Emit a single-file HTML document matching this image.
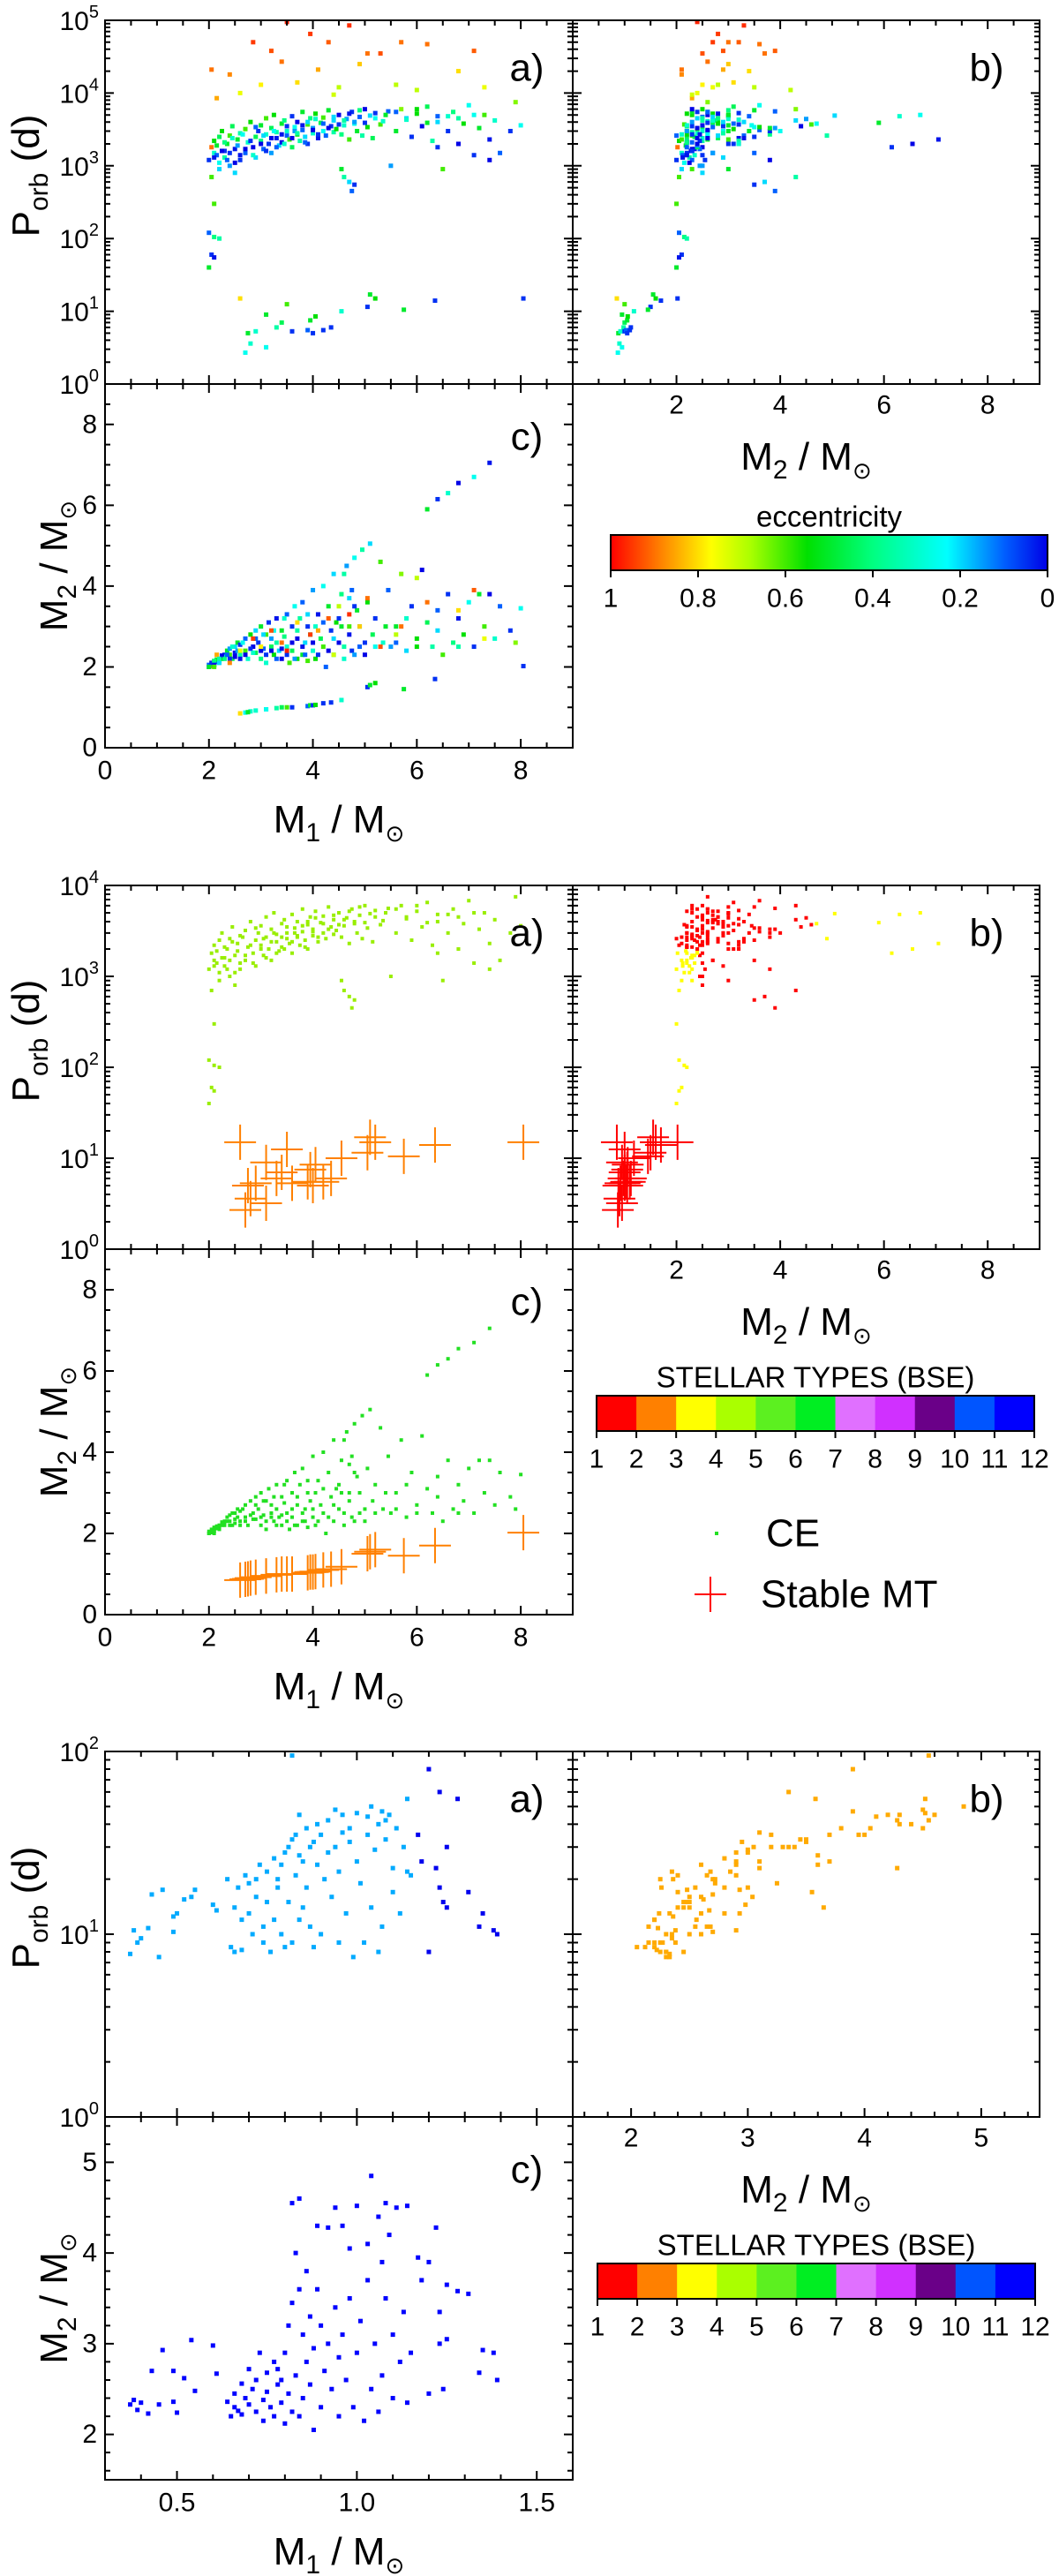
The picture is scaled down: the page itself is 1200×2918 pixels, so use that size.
<!DOCTYPE html>
<html><head><meta charset="utf-8"><title>Binary populations</title>
<style>
html,body{margin:0;padding:0;background:#fff;}
svg{display:block;font-family:"Liberation Sans",Arial,sans-serif;}
</style></head>
<body>
<svg id="fig" xmlns="http://www.w3.org/2000/svg" width="1200" height="2918" viewBox="0 0 1200 2918">
<defs>
<linearGradient id="eccGrad" x1="0" x2="1" y1="0" y2="0">
<stop offset="0" stop-color="#ff0000"/><stop offset="0.12" stop-color="#ff8800"/><stop offset="0.23" stop-color="#ffff00"/><stop offset="0.32" stop-color="#aaff00"/><stop offset="0.45" stop-color="#00e000"/><stop offset="0.6" stop-color="#00ff80"/><stop offset="0.77" stop-color="#00ffff"/><stop offset="0.9" stop-color="#0060ff"/><stop offset="1" stop-color="#0000e6"/>
</linearGradient>
</defs>
</svg>
<script>
// ---------- data: figure 1 & 2 systems [M1, M2, Porb(d), ecc] ----------
const mainSystems = [
[2.0,2.0,1200,0.05],[2.05,2.02,1800,0.9],[2.05,2.05,700,0.6],[2.1,2.1,1500,0.3],[2.1,2.05,2200,0.55],[2.15,2.12,1400,0.1],[2.2,2.2,2500,0.45],[2.2,2.15,1100,0.25],[2.25,2.2,3000,0.55],[2.3,2.3,1600,0.05],[2.3,2.25,1300,0.35],[2.35,2.4,2000,0.5],[2.4,2.3,2600,0.6],[2.4,2.45,1000,0.15],[2.45,2.2,3500,0.45],[2.5,2.5,800,0.2],[2.5,2.35,1700,0.02],[2.55,2.6,2300,0.5],[2.6,2.3,2800,0.35],[2.6,2.55,1200,0.05],
[2.7,2.4,3200,0.6],[2.7,2.7,1500,0.1],[2.75,2.2,2100,0.3],[2.8,2.8,4000,0.55],[2.85,2.5,1800,0.0],[2.9,2.35,2500,0.45],[2.9,2.9,1300,0.2],[2.95,2.6,3000,0.05],[3.0,3.0,3600,0.5],[3.0,2.2,2200,0.4],[3.05,2.45,1700,0.1],[3.1,2.8,4500,0.6],[3.1,2.1,2700,0.3],[3.15,3.1,2000,0.05],[3.2,2.5,3300,0.45],[3.2,2.7,1500,0.15],[3.25,2.3,5000,0.55],[3.3,3.2,2400,0.02],[3.3,2.6,2900,0.35],[3.35,2.4,1900,0.2],[3.4,2.9,3800,0.5],[3.4,2.2,2100,0.0],[3.45,2.75,4200,0.4],[3.5,3.3,2600,0.1],[3.5,2.5,3000,0.3],
[3.55,2.1,2300,0.6],[3.6,3.0,4800,0.05],[3.6,2.4,1800,0.45],[3.65,3.5,3400,0.25],[3.7,2.2,2700,0.55],[3.7,2.7,4000,0.0],[3.75,3.2,2200,0.35],[3.8,2.3,5500,0.5],[3.8,3.6,3100,0.1],[3.85,2.6,2500,0.2],[3.9,2.15,3700,0.6],[3.9,3.0,2000,0.05],[3.95,2.8,4500,0.4],[4.0,3.9,3300,0.15],[4.0,2.4,2800,0.3],[4.05,2.2,5200,0.55],[4.1,3.3,2400,0.02],[4.15,2.7,3900,0.45],[4.2,4.0,3000,0.25],[4.2,2.5,4600,0.6],[4.25,2.0,2600,0.1],[4.3,3.5,5800,0.5],[4.35,2.9,3500,0.05],[4.4,2.3,2900,0.35],[4.4,4.3,4200,0.2],[4.45,3.1,3200,0.55],
[4.5,2.6,5000,0.0],[4.55,3.8,2700,0.4],[4.6,2.2,3600,0.3],[4.65,4.5,4400,0.15],[4.7,3.0,2300,0.6],[4.75,2.4,5500,0.05],[4.8,4.7,3800,0.25],[4.85,3.4,3000,0.5],[4.9,2.5,4700,0.1],[4.95,4.9,2600,0.35],[5.0,2.3,6000,0.0],[5.05,3.6,3400,0.55],[5.1,5.05,4900,0.2],[5.15,2.8,2400,0.45],[5.2,3.2,5300,0.05],[5.3,4.6,3700,0.6],[5.35,2.6,4100,0.3],[5.45,3.9,5600,0.1],
[5.5,2.5,1000,0.15],[5.6,3.0,3000,0.5],[5.7,4.3,6000,0.65],[5.8,2.4,4500,0.2],[5.9,3.5,2500,0.05],[6.0,2.7,5200,0.55],[6.1,4.4,3500,0.0],[6.2,3.1,6500,0.45],[6.3,2.5,2200,0.35],[6.4,3.4,4800,0.1],[6.5,2.3,900,0.6],[6.6,3.8,3000,0.05],[6.7,2.6,5500,0.4],[6.8,3.2,2000,0.02],[6.9,2.8,3800,0.55],[7.0,3.6,6800,0.25],[7.1,2.5,1400,0.05],[7.2,3.8,3300,0.5],[7.3,3.0,5000,0.6],[7.4,3.8,1200,0.0],[7.5,2.7,4200,0.3],[7.6,3.5,1500,0.1],[7.8,2.9,3000,0.05],[7.9,2.6,7500,0.65],[8.0,3.45,3600,0.25],
[6.2,5.9,3900,0.5],[6.4,6.15,1800,0.05],[6.6,6.3,4800,0.3],[6.8,6.55,2000,0.0],[7.1,6.7,5000,0.25],[7.4,7.05,2300,0.02],
[4.55,3.0,900,0.5],[4.7,3.7,600,0.2],[4.75,3.9,450,0.1],[4.8,3.5,550,0.05],[4.6,4.3,700,0.35]
];
const mainSystemsExtra = [
[2.1,2.12,1300,0.02],[2.15,2.18,1900,0.5],[2.2,2.1,900,0.2],[2.25,2.28,1600,0.0],[2.3,2.2,2100,0.4],[2.35,2.3,1200,0.1],[2.4,2.2,1500,0.05],[2.45,2.5,2400,0.3],[2.5,2.25,1100,0.0],[2.55,2.4,1900,0.15],
[2.6,2.2,1400,0.02],[2.65,2.6,2700,0.25],[2.7,2.3,1700,0.0],[2.8,2.45,2200,0.05],[2.85,2.35,1400,0.3],[2.9,2.7,3400,0.1],[3.0,2.4,2000,0.0],[3.05,2.8,2600,0.2],[3.1,2.3,1600,0.05],[3.2,2.4,2400,0.0],
[3.25,2.9,3000,0.25],[3.3,2.2,1800,0.1],[3.4,2.45,2700,0.02],[3.45,3.2,2000,0.3],[3.5,2.3,3500,0.05],[3.6,2.6,2400,0.0],[3.65,2.2,3000,0.15],[3.7,2.9,2800,0.35],[3.8,2.5,3600,0.02],[3.85,2.3,2100,0.1],
[3.9,3.3,4000,0.2],[4.0,2.6,3100,0.0],[4.05,3.0,4400,0.3],[4.1,2.3,2700,0.05],[4.2,3.1,3800,0.1],[4.3,2.4,3300,0.0],[4.4,2.7,4700,0.2],[4.5,3.2,3700,0.05],[4.6,2.5,4200,0.35],[4.7,2.8,5200,0.02],
[4.8,2.3,4000,0.15],[4.9,3.0,5800,0.4],[5.0,2.6,3900,0.05],[5.2,2.5,4500,0.25],[5.4,3.0,5000,0.5],[5.6,2.6,5500,0.1],[5.8,3.2,4300,0.3],[6.0,2.5,6000,0.55],[6.4,2.9,4000,0.2],[6.8,2.5,4500,0.35]
];
const highEccSystems = [
[2.05,2.1,21000,0.9],[2.15,2.3,8500,0.85],[2.4,2.1,18000,0.88],[2.6,2.4,10000,0.75],[2.85,2.7,50000,0.95],[3.0,2.5,13000,0.78],[3.2,2.9,38000,0.93],[3.4,2.6,27000,0.9],[3.5,2.4,95000,0.97],[3.7,3.1,14000,0.8],[3.95,2.8,65000,0.95],[4.1,2.9,21000,0.85],[4.3,3.2,50000,0.92],[4.5,3.5,12000,0.7],[4.7,3.3,85000,0.96],[4.9,3.0,25000,0.82],[5.05,3.7,35000,0.9],[5.3,2.5,35000,0.93],[5.6,2.8,13000,0.7],[5.7,3.0,50000,0.9],[6.2,3.6,47000,0.9],[6.8,3.4,20000,0.8],[7.1,3.9,38000,0.92],[7.3,2.7,12000,0.75],[4.4,2.3,9500,0.72],[6.0,4.2,11000,0.7]
];
const midPeriodSystems = [
[2.0,2.05,120,0.1],[2.05,2.1,60,0.05],[2.1,2.15,105,0.4],[2.2,2.2,100,0.35],[2.1,2.05,55,0.02],[2.0,2.0,40,0.5],[2.1,2.0,300,0.6]
];
const shortPeriodSystems = [
[2.6,0.85,15,0.8],[2.7,0.87,2.7,0.25],[2.8,0.9,3.6,0.3],[2.75,0.88,5,0.5],[2.9,0.92,5.3,0.3],[3.1,0.95,9,0.5],[3.1,0.95,3.2,0.25],[3.3,0.98,6,0.35],[3.4,1.0,7,0.45],[3.5,1.0,12.5,0.6],[3.6,1.0,5.3,0.05],[3.9,1.03,5.5,0.1],[3.95,1.05,7.5,0.5],[4.0,1.05,5,0.05],[4.05,1.06,8.5,0.55],[4.2,1.1,5.5,0.05],[4.35,1.12,6,0.05],[4.55,1.18,10,0.3],[5.05,1.5,11.5,0.05],[5.1,1.55,17,0.5],[5.2,1.6,15,0.55],[5.75,1.45,10.5,0.5],[6.35,1.7,14,0.05],[8.05,2.02,15,0.05]
];
// ---------- data: figure 3 systems [M1, M2, Porb(d)] ----------
const lowMassSystems = [
[0.37,2.33,7.8],[0.38,2.38,10.5],[0.39,2.27,9],[0.40,2.35,9.5],[0.42,2.23,10.8],[0.43,2.7,16.5],[0.45,2.33,7.5],[0.46,2.93,17.5],[0.49,2.36,12.5],[0.49,2.7,10.3],[0.50,2.24,13],[0.52,2.62,15.5],[0.54,3.04,16],[0.55,2.48,17.5],[0.60,2.98,14.5],[0.61,2.67,13.5],
[0.64,2.36,20],[0.65,2.2,8.5],[0.66,2.45,14],[0.66,2.3,8],[0.67,2.26,18],[0.68,2.56,12],[0.68,2.22,8.2],[0.69,2.4,21],[0.70,2.72,19],[0.70,2.33,13],[0.71,2.5,10],[0.72,2.25,20],[0.72,2.6,16],[0.73,2.9,24],[0.74,2.38,9],[0.74,2.15,11],[0.75,2.68,22],[0.75,2.47,15],[0.76,2.3,8],[0.77,2.8,26],[0.77,2.2,12],[0.78,2.55,18],[0.78,2.72,20],[0.79,2.35,10],[0.79,2.6,24],[0.80,2.12,8.5],[0.80,2.9,28],[0.81,3.2,30],[0.81,2.45,15],[0.82,3.45,33],[0.82,4.55,95],[0.82,2.25,9],[0.83,4.0,35],[0.83,2.65,21],[0.84,4.6,45],[0.84,3.6,27],[0.84,2.2,12],[0.85,3.1,25],[0.85,2.4,14],[0.86,3.8,38],[0.86,2.8,18],[0.87,3.3,30],[0.87,2.55,11],[0.88,2.95,32],[0.88,2.05,8.5],[0.89,4.3,40],[0.89,3.6,24],[0.9,2.3,10],[0.9,3.2,35],[0.91,2.7,20],[0.92,4.28,42],[0.92,3.0,28],[0.93,2.5,16],[0.94,4.5,48],[0.94,3.4,30],[0.95,2.2,9],[0.95,2.85,22],[0.96,4.3,45],[0.96,3.1,36],[0.97,2.6,13],[0.98,4.05,38],[0.98,3.5,32],[0.99,2.3,7.5],[1.0,4.52,46],[1.0,2.9,25],[1.01,3.25,19],[1.02,2.15,9],[1.03,4.1,44],[1.03,3.7,35],[1.04,4.85,50],[1.04,2.5,14],[1.05,3.0,29],[1.06,4.4,40],[1.06,2.25,8],[1.07,3.9,47],[1.07,2.65,11],[1.08,4.55,42],[1.08,3.5,33],[1.09,4.2,45],[1.1,3.1,23],[1.1,2.4,17],[1.11,4.5,38],[1.12,2.8,13],[1.13,3.35,30],[1.14,4.52,55],[1.14,2.35,22],[1.15,2.9,21]
];
const lowMassLateSystems = [
[1.17,3.95,35],[1.18,3.7,25],[1.2,3.9,80],[1.2,2.45,8],[1.22,4.28,23],[1.23,3.35,60],[1.23,3.0,18],[1.24,2.5,15],[1.25,3.65,14],[1.25,3.05,30],[1.28,3.58,55],[1.31,3.55,17],[1.34,2.68,11],[1.35,2.93,13],[1.38,2.9,10.5],[1.39,2.6,10]
];
const eccTickLabels = ['1','0.8','0.6','0.4','0.2','0'];
const eccTickValues = [1,0.8,0.6,0.4,0.2,0];
const typeLabels = ['1','2','3','4','5','6','7','8','9','10','11','12'];
const typeColors = ['#ff0000','#ff8000','#ffff00','#aaff00','#5cf020','#00ee22','#e070ff','#d030ff','#6a0088','#0055ff','#0000ff'];

// ---------- helpers ----------
const NS = 'http://www.w3.org/2000/svg';
const svg = document.getElementById('fig');
function mk(tag, attrs, parent) {
  const e = document.createElementNS(NS, tag);
  for (const k in attrs) e.setAttribute(k, attrs[k]);
  (parent || svg).appendChild(e);
  return e;
}
function linScale(d0, d1, p0, p1) { return v => p0 + (v - d0) / (d1 - d0) * (p1 - p0); }
function logScale(d0, d1, p0, p1) { const a = Math.log10(d0), b = Math.log10(d1); return v => p0 + (Math.log10(v) - a) / (b - a) * (p1 - p0); }
const eccStops = [[0,[0,0,230]],[0.1,[0,96,255]],[0.23,[0,255,255]],[0.4,[0,255,128]],[0.55,[0,224,0]],[0.68,[170,255,0]],[0.77,[255,255,0]],[0.88,[255,136,0]],[1,[255,0,0]]];
function eccColor(e) {
  for (let i = 1; i < eccStops.length; i++) {
    if (e <= eccStops[i][0]) {
      const [a, ca] = eccStops[i-1], [b, cb] = eccStops[i];
      const t = (e - a) / (b - a);
      return 'rgb(' + ca.map((c, j) => Math.round(c + (cb[j] - c) * t)).join(',') + ')';
    }
  }
  return 'rgb(255,0,0)';
}
function text(x, y, str, size, anchor, parent) {
  const t = mk('text', {x: x, y: y, 'font-size': size, 'text-anchor': anchor || 'middle', 'dominant-baseline': 'central', fill: '#000'}, parent);
  t.textContent = str;
  return t;
}
function powLabel(x, y, exp, g) {
  const t = mk('text', {x: x, y: y + 11, 'font-size': 30, 'text-anchor': 'end', fill: '#000'}, g);
  
  
  const s1 = mk('tspan', {}, t); s1.textContent = '10';
  const s2 = mk('tspan', {'font-size': 20, dy: -14}, t); s2.textContent = exp;
}
function massTitle(cx, cy, sub, g, rotate) {
  const attrs = {x: cx, y: cy + 14, 'font-size': 44, 'text-anchor': 'middle', fill: '#000'};
  if (rotate) attrs.transform = 'rotate(-90 ' + cx + ' ' + cy + ')';
  const t = mk('text', attrs, g);
  const a = mk('tspan', {}, t); a.textContent = 'M';
  const b = mk('tspan', {'font-size': 30, dy: 10}, t); b.textContent = sub;
  const c = mk('tspan', {dy: -10}, t); c.textContent = ' / M';
  const d = mk('tspan', {'font-size': 26, dy: 10}, t); d.textContent = '\u2299';
  return t;
}
function porbTitle(cx, cy, g) {
  const t = mk('text', {x: cx, y: cy + 14, 'font-size': 44, 'text-anchor': 'middle', fill: '#000', transform: 'rotate(-90 ' + cx + ' ' + cy + ')'}, g);
  const a = mk('tspan', {}, t); a.textContent = 'P';
  const b = mk('tspan', {'font-size': 30, dy: 10}, t); b.textContent = 'orb';
  const c = mk('tspan', {dy: -10}, t); c.textContent = ' (d)';
  return t;
}
function panelFrame(g, x0, y0, x1, y1, xs, ys, xTicks, xMinor, yTicks, yMinor) {
  const frame = mk('rect', {x: x0, y: y0, width: x1 - x0, height: y1 - y0, fill: 'none', stroke: '#000', 'stroke-width': 2}, g);
  
  
  let d = '';
  xTicks.forEach(v => { const x = xs(v); d += `M${x},${y1}v-10M${x},${y0}v10`; });
  xMinor.forEach(v => { const x = xs(v); d += `M${x},${y1}v-6M${x},${y0}v6`; });
  yTicks.forEach(v => { const y = ys(v); d += `M${x0},${y}h10M${x1},${y}h-10`; });
  yMinor.forEach(v => { const y = ys(v); d += `M${x0},${y}h6M${x1},${y}h-6`; });
  const tk = mk('path', {d: d, stroke: '#000', 'stroke-width': 2, fill: 'none'}, g);
  
  
}
function range(a, b, step) { const r = []; for (let v = a; v <= b + 1e-9; v += step) r.push(+v.toFixed(4)); return r; }
function logMinor(d0, d1) { const r = []; for (let p = d0; p < d1; p *= 10) for (let k = 2; k <= 9; k++) r.push(p * k); return r; }
function square(g, x, y, s, color) {
  const r = mk('rect', {x: x - s / 2, y: y - s / 2, width: s, height: s, fill: color}, g);
  
  
}
function cross(g, x, y, color) {
  const p = mk('path', {d: `M${x-18},${y}h36M${x},${y-20}v40`, stroke: color, 'stroke-width': 2, fill: 'none'}, g);
  
  
}

const L = 119, D = 649, R = 1178;

function buildFigure(id, T, M, B, cfg) {
  const g = mk('g', {});
  
  
  const xa = linScale(cfg.x1[0], cfg.x1[1], L, D);
  const xb = linScale(cfg.x2[0], cfg.x2[1], D, R);
  const ya = logScale(cfg.pRange[0], cfg.pRange[1], M, T);
  const yc = linScale(cfg.m2Range[0], cfg.m2Range[1], B, M);
  const decades = []; for (let p = cfg.pRange[0]; p <= cfg.pRange[1]; p *= 10) decades.push(p);
  const ga = mk('g', {}, g);  
  const gb = mk('g', {}, g);  
  const gc = mk('g', {}, g);  
  const clipA = mk('clipPath', {id: id + '-ca'}, g); mk('rect', {x: L, y: T, width: D - L, height: M - T}, clipA);
  const clipB = mk('clipPath', {id: id + '-cb'}, g); mk('rect', {x: D, y: T, width: R - D, height: M - T}, clipB);
  const clipC = mk('clipPath', {id: id + '-cc'}, g); mk('rect', {x: L, y: M, width: D - L, height: B - M}, clipC);
  const pa = mk('g', {'clip-path': `url(#${id}-ca)`}, ga);  
  const pb = mk('g', {'clip-path': `url(#${id}-cb)`}, gb);  
  const pc = mk('g', {'clip-path': `url(#${id}-cc)`}, gc);  
  cfg.draw(pa, pb, pc, xa, xb, ya, yc);
  panelFrame(ga, L, T, D, M, xa, ya, cfg.x1Major, cfg.x1Minor, decades, logMinor(cfg.pRange[0], cfg.pRange[1]));
  panelFrame(gb, D, T, R, M, xb, ya, cfg.x2Major, cfg.x2Minor, decades, logMinor(cfg.pRange[0], cfg.pRange[1]));
  panelFrame(gc, L, M, D, B, xa, yc, cfg.x1Major, cfg.x1Minor, cfg.m2Major, cfg.m2Minor);
  decades.forEach(p => powLabel(112, ya(p), String(Math.round(Math.log10(p))), ga));
  cfg.x2Labels.forEach((v, i) => { const t = text(xb(v), M + 24, cfg.x2LabelText[i], 30, 'middle', gb);   });
  cfg.m2Labels.forEach((v, i) => { const t = text(110, yc(v), cfg.m2LabelText[i], 30, 'end', gc);   });
  cfg.x1Labels.forEach((v, i) => { const t = text(xa(v), B + 26, cfg.x1LabelText[i], 30, 'middle', gc);   });
  const la = text(597, T + 54, 'a)', 44, 'middle', ga);  
  const lb = text(1118, T + 54, 'b)', 44, 'middle', gb);  
  const lc = text(597, M + 60, 'c)', 44, 'middle', gc);  
  const yt = porbTitle(30, (T + M) / 2 - 30, ga);  
  const bt = massTitle((D + R) / 2, M + 83, '2', gb, false);  
  const ct = massTitle(62, (M + B) / 2, '2', gc, true);  
  const at = massTitle((L + D) / 2, B + 82, '1', gc, false);  
  return g;
}
function typeColorbar(g, x0, x1, M) {
  const cb = mk('g', {}, g);
  
  
  const t = text((x0 + x1) / 2, M + 145, 'STELLAR TYPES (BSE)', 33, 'middle', cb);
  
  
  const w = (x1 - x0) / typeColors.length;
  typeColors.forEach((c, i) => {
    const r = mk('rect', {x: x0 + i * w, y: M + 166, width: w + 0.5, height: 40, fill: c}, cb);
    
    
  });
  mk('rect', {x: x0, y: M + 166, width: x1 - x0, height: 40, fill: 'none', stroke: '#000', 'stroke-width': 2}, cb);
  typeLabels.forEach((s, i) => {
    const x = x0 + i * w;
    mk('path', {d: `M${x},${M + 206}v8`, stroke: '#000', 'stroke-width': 2}, cb);
    const tl = text(x, M + 238, s, 30, 'middle', cb);
    
    
  });
}

// ---------- Figure 1 ----------
const fig1 = buildFigure('figure-eccentricity', 23, 435, 847, {
  x1: [0, 9], x2: [0, 9], pRange: [1, 1e5], m2Range: [0, 9],
  x1Major: [0, 2, 4, 6, 8], x1Minor: range(0, 9, 0.5), x2Major: [0, 2, 4, 6, 8], x2Minor: range(0, 9, 0.5),
  m2Major: [0, 2, 4, 6, 8], m2Minor: range(0, 9, 0.5),
  x1Labels: [0, 2, 4, 6, 8], x1LabelText: ['0', '2', '4', '6', '8'],
  x2Labels: [2, 4, 6, 8], x2LabelText: ['2', '4', '6', '8'],
  m2Labels: [0, 2, 4, 6, 8], m2LabelText: ['0', '2', '4', '6', '8'],
  draw: (pa, pb, pc, xa, xb, ya, yc) => {
    [mainSystems, mainSystemsExtra, highEccSystems, midPeriodSystems, shortPeriodSystems].forEach(set => set.forEach(s => {
      const col = eccColor(s[3]);
      square(pa, xa(s[0]), ya(s[2]), 5, col);
      square(pb, xb(s[1]), ya(s[2]), 5, col);
      square(pc, xa(s[0]), yc(s[1]), 5, col);
    }));
  }
});
(function () {
  const cb = mk('g', {}, fig1);
  
  
  const x0 = 692, x1 = 1187, M = 435;
  const t = text((x0 + x1) / 2, M + 150, 'eccentricity', 33, 'middle', cb);
  
  
  const r = mk('rect', {x: x0, y: M + 171, width: x1 - x0, height: 40, fill: 'url(#eccGrad)', stroke: '#000', 'stroke-width': 2}, cb);
  
  
  eccTickValues.forEach((v, i) => {
    const x = x0 + (1 - v) * (x1 - x0);
    mk('path', {d: `M${x},${M + 211}v8`, stroke: '#000', 'stroke-width': 2}, cb);
    const tl = text(x, M + 243, eccTickLabels[i], 30, 'middle', cb);
    
    
  });
})();

// ---------- Figure 2 ----------
const fig2 = buildFigure('figure-channels', 1003, 1415, 1829, {
  x1: [0, 9], x2: [0, 9], pRange: [1, 1e4], m2Range: [0, 9],
  x1Major: [0, 2, 4, 6, 8], x1Minor: range(0, 9, 0.5), x2Major: [0, 2, 4, 6, 8], x2Minor: range(0, 9, 0.5),
  m2Major: [0, 2, 4, 6, 8], m2Minor: range(0, 9, 0.5),
  x1Labels: [0, 2, 4, 6, 8], x1LabelText: ['0', '2', '4', '6', '8'],
  x2Labels: [2, 4, 6, 8], x2LabelText: ['2', '4', '6', '8'],
  m2Labels: [0, 2, 4, 6, 8], m2LabelText: ['0', '2', '4', '6', '8'],
  draw: (pa, pb, pc, xa, xb, ya, yc) => {
    [mainSystems, mainSystemsExtra, midPeriodSystems].forEach(set => set.forEach(s => {
      const yellow = (s[2] < 2000 && s[1] < 2.45) || s[2] < 400 || s[1] > 4.6;
      square(pa, xa(s[0]), ya(s[2]), 4, '#99ee00');
      square(pb, xb(s[1]), ya(s[2]), 4, yellow ? '#ffff00' : '#ff0000');
      square(pc, xa(s[0]), yc(s[1]), 4, '#22e022');
    }));
    shortPeriodSystems.forEach(s => {
      cross(pa, xa(s[0]), ya(s[2]), '#ff8000');
      cross(pb, xb(s[1]), ya(s[2]), '#ff0000');
      cross(pc, xa(s[0]), yc(s[1]), '#ff8000');
    });
  }
});
typeColorbar(fig2, 676, 1172, 1415);
(function () {
  const lg = mk('g', {}, fig2);
  
  
  const d = mk('rect', {x: 810, y: 1415 + 320, width: 4, height: 4, fill: '#22e022'}, lg);
  
  
  const t1 = text(868, 1415 + 322, 'CE', 44, 'start', lg);
  
  
  const c = mk('path', {d: `M787,${1415 + 391}h36M805,${1415 + 371}v40`, stroke: '#ff0000', 'stroke-width': 2}, lg);
  
  
  const t2 = text(862, 1415 + 391, 'Stable MT', 44, 'start', lg);
  
  
})();

// ---------- Figure 3 ----------
const fig3 = buildFigure('figure-low-mass', 1984, 2398, 2809, {
  x1: [0.3, 1.6], x2: [1.5, 5.5], pRange: [1, 100], m2Range: [1.5, 5.5],
  x1Major: [0.5, 1.0, 1.5], x1Minor: range(0.3, 1.6, 0.1), x2Major: [2, 3, 4, 5], x2Minor: range(1.6, 5.4, 0.2),
  m2Major: [2, 3, 4, 5], m2Minor: range(1.6, 5.4, 0.2),
  x1Labels: [0.5, 1.0, 1.5], x1LabelText: ['0.5', '1.0', '1.5'],
  x2Labels: [2, 3, 4, 5], x2LabelText: ['2', '3', '4', '5'],
  m2Labels: [2, 3, 4, 5], m2LabelText: ['2', '3', '4', '5'],
  draw: (pa, pb, pc, xa, xb, ya, yc) => {
    [[lowMassSystems, '#00aaff'], [lowMassLateSystems, '#0000ee']].forEach(([set, ca]) => set.forEach(s => {
      square(pa, xa(s[0]), ya(s[2]), 5, ca);
      square(pb, xb(s[1]), ya(s[2]), 5, '#ffaa00');
      square(pc, xa(s[0]), yc(s[1]), 5, '#0000ff');
    }));
  }
});
typeColorbar(fig3, 677, 1173, 2398);
</script>
</body></html>
